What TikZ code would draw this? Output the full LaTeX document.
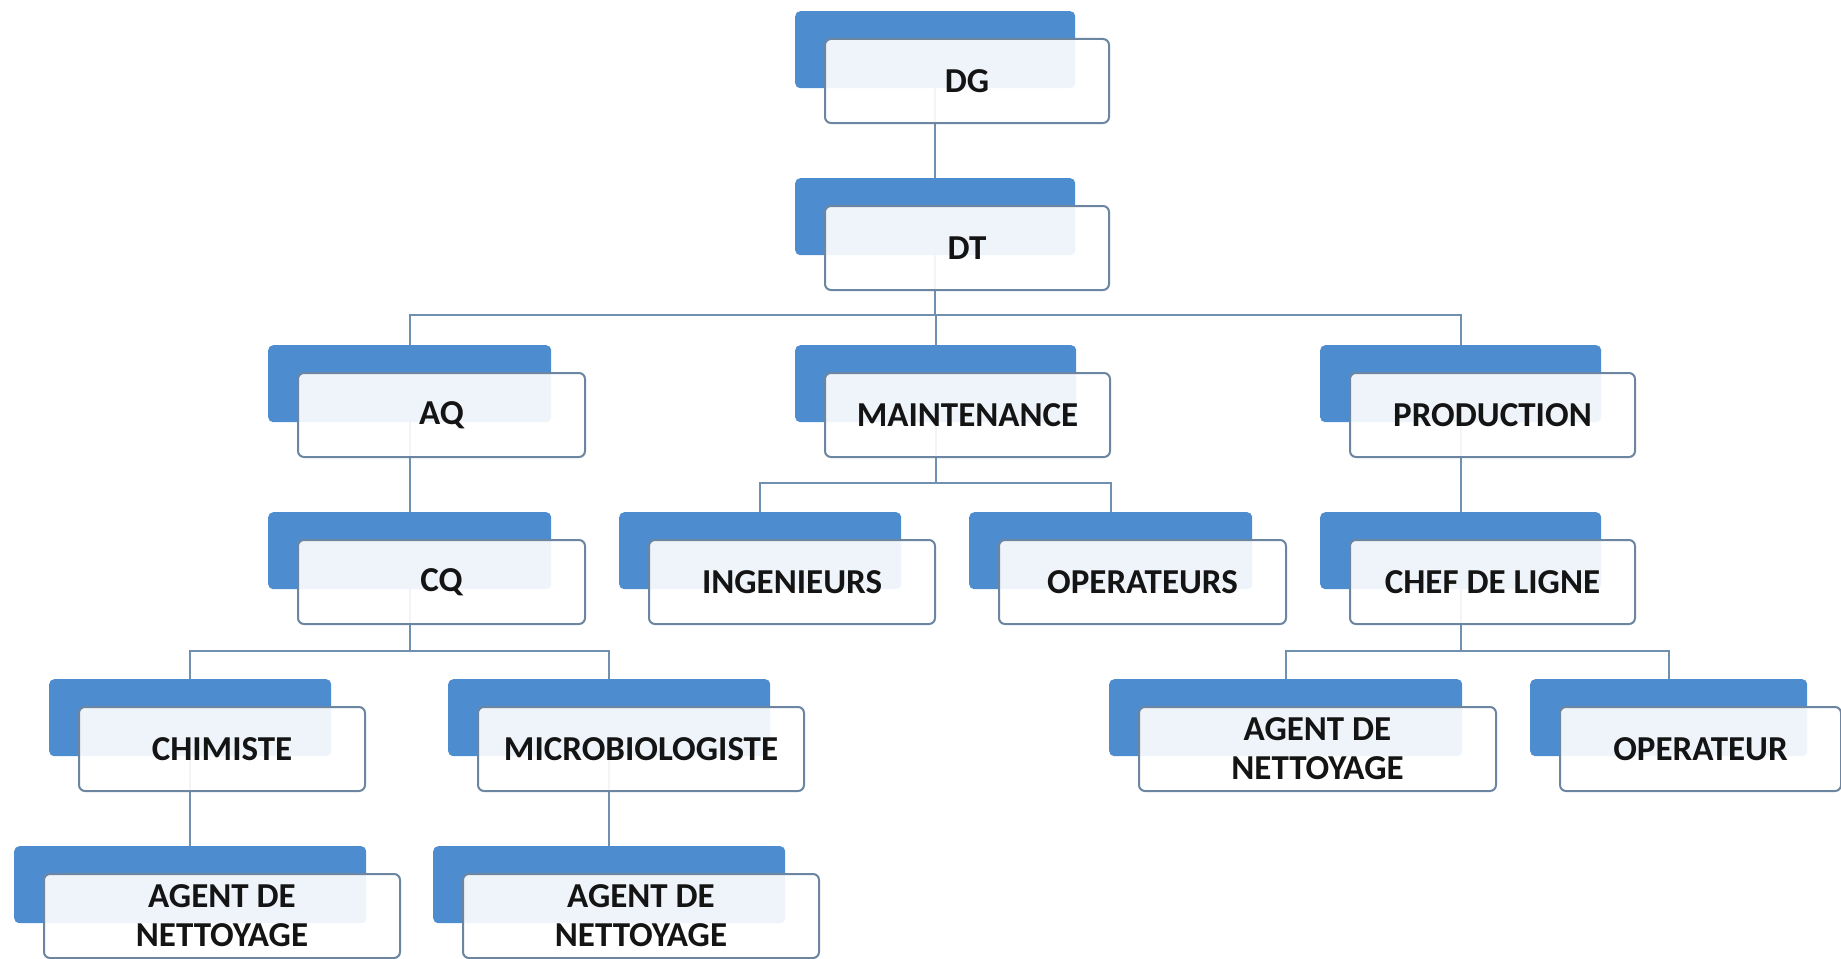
\documentclass[tikz,border=0pt]{standalone}
\usepackage{fontspec}
\setmainfont{Carlito}
\usetikzlibrary{backgrounds}
\definecolor{boxblue}{RGB}{78,140,208}
\definecolor{frontline}{RGB}{108,134,162}
\definecolor{linkcol}{RGB}{112,144,176}
\definecolor{textblack}{RGB}{20,20,20}
\newcommand\orgunit[5]{%
  \node[backbox, minimum width=#4pt] (#1b) at (#2,#3) {};
  \node[frontbox, minimum width=#4pt+4pt] (#1f) at (#2+29,#3+27) {#5};
}
\begin{document}
\begin{tikzpicture}[x=1pt,y=-1pt,
  backbox/.style={draw=none, fill=boxblue, rounded corners=5pt, minimum height=77pt, inner sep=0pt, anchor=north west},
  frontbox/.style={draw=frontline, line width=2pt, fill=white, fill opacity=0.91, text opacity=1, rounded corners=6pt, minimum height=84pt, inner sep=0pt, anchor=north west, align=center, font=\fontsize{35}{39}\selectfont\bfseries, text=textblack},
  link/.style={draw=linkcol, line width=2.2pt}]
\useasboundingbox (0,0) rectangle (1841,958);
% row 1-2
\orgunit{DG}{795}{11}{280}{DG}
\orgunit{DT}{795}{178}{280}{DT}
% row 3
\orgunit{AQ}{268}{345}{283}{AQ}
\orgunit{MAINT}{795}{345}{281}{MAINTENANCE}
\orgunit{PROD}{1320}{345}{281}{PRODUCTION}
% row 4
\orgunit{CQ}{268}{512}{283}{CQ}
\orgunit{ING}{619}{512}{282}{INGENIEURS}
\orgunit{OPERS}{969}{512}{283}{OPERATEURS}
\orgunit{CHEF}{1320}{512}{281}{CHEF DE LIGNE}
% row 5
\orgunit{CHIM}{49}{679}{282}{CHIMISTE}
\orgunit{MICRO}{448}{679}{322}{MICROBIOLOGISTE}
\orgunit{AGR}{1109}{679}{353}{AGENT DE\\NETTOYAGE}
\orgunit{OPR}{1530}{679}{277}{OPERATEUR}
% row 6
\orgunit{AGA}{14}{846}{352}{AGENT DE\\NETTOYAGE}
\orgunit{AGB}{433}{846}{352}{AGENT DE\\NETTOYAGE}
% bus levels
\coordinate (bus1) at (0,315);
\coordinate (bus2) at (0,483);
\coordinate (bus3) at (0,651);
\begin{pgfonlayer}{background}
\fill[white] (0,0) rectangle (1841,958);
\draw[link] (DGb.south) -- (DTb.north);
\draw[link] (DTb.south) -- (DTb.south |- bus1);
\draw[link] (AQb.north) -- (AQb.north |- bus1) -- (PRODb.north |- bus1) -- (PRODb.north);
\draw[link] (MAINTb.north) -- (MAINTb.north |- bus1);
\draw[link] (AQb.south) -- (CQb.north);
\draw[link] (PRODb.south) -- (CHEFb.north);
\draw[link] (MAINTb.south) -- (MAINTb.south |- bus2);
\draw[link] (INGb.north) -- (INGb.north |- bus2) -- (OPERSb.north |- bus2) -- (OPERSb.north);
\draw[link] (CQb.south) -- (CQb.south |- bus3);
\draw[link] (CHIMb.north) -- (CHIMb.north |- bus3) -- (MICROb.north |- bus3) -- (MICROb.north);
\draw[link] (CHEFb.south) -- (CHEFb.south |- bus3);
\draw[link] (AGRb.north) -- (AGRb.north |- bus3) -- (OPRb.north |- bus3) -- (OPRb.north);
\draw[link] (CHIMb.south) -- (AGAb.north);
\draw[link] (MICROb.south) -- (AGBb.north);
\end{pgfonlayer}
\end{tikzpicture}
\end{document}
